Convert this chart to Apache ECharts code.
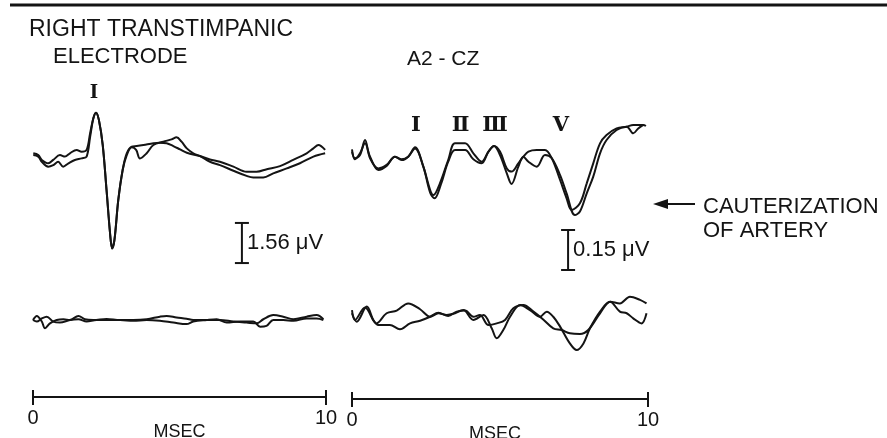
<!DOCTYPE html>
<html>
<head>
<meta charset="utf-8">
<script src="https://cdn.jsdelivr.net/npm/echarts/dist/echarts.min.js"></script>
<style>
  html, body { margin: 0; padding: 0; background: #fff; }
  #chart { width: 887px; height: 438px; }
</style>
</head>
<body>
<div id="chart"></div>
<script>
// Sweep time, ms
const timeTicks = [0, 10];

// Right transtympanic electrode, µV: two superimposed runs before, two after
const ttBeforeA = [[0.01,-0.03],[0.18,-0.09],[0.30,-0.29],[0.52,-0.48],[0.69,-0.42],[0.86,-0.29],[1.03,-0.48],[1.21,-0.35],[1.43,-0.22],[1.66,-0.16],[1.83,-0.09],[1.95,0.68],[2.06,1.40],[2.15,1.62],[2.25,1.33],[2.38,0.36],[2.51,-1.39],[2.63,-3.07],[2.70,-3.66],[2.78,-3.33],[2.91,-1.78],[3.06,-0.61],[3.20,-0.03],[3.37,0.27],[3.52,0.17],[3.65,-0.16],[3.88,0.04],[4.11,0.36],[4.45,0.49],[4.73,0.58],[4.90,0.66],[5.07,0.49],[5.25,0.23],[5.47,0.04],[5.70,-0.07],[6.04,-0.29],[6.38,-0.42],[6.84,-0.64],[7.29,-0.84],[7.52,-0.90],[7.86,-0.90],[8.20,-0.74],[8.66,-0.55],[9.11,-0.35],[9.57,-0.09],[9.97,0.04]];
const ttBeforeB = [[0.01,0.04],[0.18,-0.03],[0.30,-0.22],[0.52,-0.35],[0.69,-0.22],[0.92,-0.03],[1.09,-0.09],[1.26,0.04],[1.49,0.17],[1.66,0.10],[1.83,0.17],[1.95,0.82],[2.06,1.40],[2.15,1.62],[2.25,1.33],[2.38,0.36],[2.51,-1.39],[2.63,-3.07],[2.70,-3.66],[2.78,-3.33],[2.91,-1.78],[3.06,-0.61],[3.20,0.04],[3.37,0.30],[3.54,0.32],[3.77,0.36],[4.11,0.43],[4.33,0.45],[4.56,0.43],[4.79,0.32],[5.02,0.19],[5.25,0.06],[5.70,-0.07],[6.04,-0.20],[6.38,-0.29],[6.84,-0.48],[7.29,-0.68],[7.63,-0.68],[7.98,-0.58],[8.43,-0.46],[8.88,-0.22],[9.34,0.04],[9.57,0.23],[9.74,0.36],[9.97,0.17]];
const ttAfterA = [[0,0],[0.13,0.16],[0.30,-0.06],[0.41,-0.32],[0.58,-0.13],[0.81,0],[1.04,0.03],[1.26,0],[1.55,0.16],[1.77,0.03],[2.06,0],[2.51,0.04],[2.97,0],[3.42,0],[3.88,0.03],[4.33,0.13],[4.56,0.16],[4.90,0.10],[5.24,0.05],[5.47,0],[5.93,0],[6.38,0],[6.84,-0.06],[7.29,-0.10],[7.63,-0.13],[7.86,0.03],[8.20,0.19],[8.54,0.13],[8.89,0.03],[9.34,0.13],[9.68,0.19],[9.91,0.03]];
const ttAfterB = [[0,0],[0.13,-0.06],[0.30,0.06],[0.47,0.13],[0.69,-0.06],[0.92,-0.10],[1.26,0],[1.55,0.03],[1.83,-0.06],[2.17,0],[2.51,0],[2.97,0],[3.42,-0.03],[3.88,0],[4.33,-0.03],[4.79,-0.10],[5.24,-0.16],[5.47,-0.06],[5.93,0],[6.27,0.03],[6.61,-0.10],[7.06,-0.06],[7.52,-0.06],[7.75,-0.26],[7.97,-0.23],[8.20,0],[8.54,0],[8.89,-0.03],[9.34,0.06],[9.68,0.06],[9.91,0]];

// A2-Cz, µV: two superimposed runs before, two after
const czBeforeA = [[0,0.0025],[0.10,-0.035],[0.27,-0.0125],[0.44,0.025],[0.61,-0.025],[0.89,-0.075],[1.17,-0.06],[1.45,-0.025],[1.68,-0.0375],[1.90,-0.025],[2.13,0.010],[2.41,-0.0625],[2.64,-0.15],[2.75,-0.169],[2.97,-0.125],[3.25,-0.0375],[3.48,0.025],[3.82,0.025],[4.10,-0.0125],[4.38,-0.044],[4.61,-0.006],[4.80,0.015],[5.00,-0.006],[5.23,-0.069],[5.39,-0.081],[5.62,-0.05],[5.79,-0.025],[5.96,-0.006],[6.24,0],[6.52,0],[6.75,-0.031],[7.03,-0.1125],[7.25,-0.181],[7.42,-0.225],[7.70,-0.20],[7.93,-0.125],[8.15,-0.05],[8.38,0.025],[8.60,0.056],[8.94,0.081],[9.28,0.0875],[9.50,0.094],[9.84,0.094],[9.93,0.09]];
const czBeforeB = [[0,-0.006],[0.10,-0.031],[0.27,-0.019],[0.44,0.0375],[0.61,-0.031],[0.89,-0.069],[1.17,-0.056],[1.45,-0.025],[1.68,-0.035],[1.90,-0.025],[2.13,0.006],[2.41,-0.0625],[2.64,-0.16],[2.79,-0.181],[3.00,-0.13],[3.25,-0.044],[3.48,0],[3.82,0],[4.10,-0.035],[4.38,-0.05],[4.61,-0.006],[4.80,0.015],[5.00,-0.019],[5.23,-0.0875],[5.39,-0.1275],[5.62,-0.0625],[5.79,-0.025],[5.96,-0.044],[6.24,-0.0625],[6.52,-0.019],[6.75,-0.031],[7.03,-0.094],[7.25,-0.1625],[7.53,-0.244],[7.70,-0.231],[7.93,-0.1625],[8.15,-0.10],[8.38,-0.0125],[8.60,0.0375],[8.94,0.075],[9.28,0.0875],[9.50,0.0625],[9.67,0.081],[9.84,0.094]];
const czAfterA = [[0,0.011],[0.10,-0.026],[0.44,0.021],[0.83,-0.039],[1.17,-0.001],[1.51,0.009],[1.90,0.036],[2.30,0.014],[2.64,-0.014],[2.92,-0.001],[3.20,-0.0075],[3.48,-0.001],[3.76,0.011],[4.10,-0.026],[4.44,-0.0075],[4.72,-0.0575],[4.89,-0.095],[5.11,-0.064],[5.34,-0.014],[5.68,0.03],[6.01,0.011],[6.35,-0.014],[6.58,0.005],[6.80,-0.014],[7.03,-0.051],[7.36,-0.114],[7.59,-0.139],[7.82,-0.114],[8.04,-0.0575],[8.38,0.005],[8.72,0.0425],[9.05,0.036],[9.39,0.061],[9.73,0.049],[9.95,0.036]];
const czAfterB = [[0,-0.001],[0.16,-0.0325],[0.50,0.024],[0.72,-0.026],[0.89,-0.045],[1.28,-0.045],[1.62,-0.061],[1.96,-0.039],[2.30,-0.029],[2.64,-0.014],[2.92,0.001],[3.25,-0.011],[3.54,0.005],[3.82,0.009],[4.10,-0.014],[4.32,-0.0075],[4.61,-0.045],[4.89,-0.039],[5.17,-0.026],[5.45,0.0175],[5.79,0.03],[6.13,0.005],[6.46,-0.024],[6.80,-0.0575],[7.08,-0.064],[7.36,-0.076],[7.70,-0.079],[7.98,-0.064],[8.38,-0.001],[8.72,0.0425],[9.05,0.005],[9.28,-0.001],[9.50,-0.02],[9.78,-0.039],[9.95,-0.001]];

// Wave labels: [name, ms, µV]
const ttWaves = [['Ⅰ', 2.08, 2.38]];
const czWaves = [['Ⅰ', 2.16, 0.09], ['Ⅱ', 3.67, 0.09], ['Ⅲ', 4.83, 0.09], ['Ⅴ', 7.06, 0.09]];

// Calibration bars: [ms, lower µV, size µV]
const ttCalib = [7.13, -4.23, 1.56];
const czCalib = [7.30, -0.45, 0.15];

const INK = '#141414';
const FONT = '"Liberation Sans", Arial, sans-serif';

const chart = echarts.init(document.getElementById('chart'), null, { renderer: 'canvas' });

function trace(data, xi, yi) {
  return {
    type: 'line', data, xAxisIndex: xi, yAxisIndex: yi,
    showSymbol: false, smooth: 0.35, silent: true, animation: false,
    lineStyle: { color: INK, width: 2 }
  };
}

function calibSeries(bar, xi, yi) {
  return {
    type: 'custom', xAxisIndex: xi, yAxisIndex: yi, silent: true, animation: false,
    data: [bar],
    renderItem(params, api) {
      const x = api.value(0), lo = api.value(1), size = api.value(2);
      const top = api.coord([x, lo + size]);
      const bot = api.coord([x, lo]);
      const cap = 7;
      const st = { stroke: INK, lineWidth: 2 };
      return {
        type: 'group',
        children: [
          { type: 'line', shape: { x1: top[0], y1: top[1], x2: bot[0], y2: bot[1] }, style: st },
          { type: 'line', shape: { x1: top[0] - cap, y1: top[1], x2: top[0] + cap, y2: top[1] }, style: st },
          { type: 'line', shape: { x1: bot[0] - cap, y1: bot[1], x2: bot[0] + cap, y2: bot[1] }, style: st },
          { type: 'text', style: {
              text: size.toFixed(2) + ' μV',
              x: top[0] + 5, y: (top[1] + bot[1]) / 2,
              align: 'left', verticalAlign: 'middle',
              font: '22px ' + FONT, fill: INK } }
        ]
      };
    }
  };
}

function waveLabels(list, xi, yi, size) {
  return {
    type: 'custom', xAxisIndex: xi, yAxisIndex: yi, silent: true, animation: false,
    data: list.map(d => [d[1], d[2]]),
    renderItem(params, api) {
      const p = api.coord([api.value(0), api.value(1)]);
      return { type: 'text', style: {
        text: list[params.dataIndex][0], x: p[0], y: p[1],
        align: 'center', verticalAlign: 'middle',
        font: 'bold ' + size + 'px "DejaVu Serif", serif', fill: INK } };
    }
  };
}

function hiddenX(grid) {
  return { type: 'value', gridIndex: grid, min: timeTicks[0], max: timeTicks[1], show: false };
}
function timeAxis(grid, offset, nameShift) {
  return [{
    type: 'value', gridIndex: grid, min: timeTicks[0], max: timeTicks[1], interval: 10,
    position: 'bottom', offset,
    axisLine: { show: true, onZero: false, lineStyle: { color: INK, width: 2 } },
    axisTick: { show: true, length: 8, lineStyle: { color: INK, width: 2 } },
    axisLabel: { show: true, color: INK, fontSize: 20, fontFamily: FONT, margin: 11 },
    splitLine: { show: false },
    name: 'MSEC', nameLocation: 'middle', nameGap: 26, nameMoveOverlap: false,
    nameTextStyle: { color: INK, fontSize: 18, fontFamily: FONT, padding: [0, nameShift, 0, 0] }
  }, {
    type: 'value', gridIndex: grid, min: timeTicks[0], max: timeTicks[1], interval: 10,
    position: 'bottom', offset,
    axisLine: { show: false, onZero: false },
    axisTick: { show: true, inside: true, length: 7, lineStyle: { color: INK, width: 2 } },
    axisLabel: { show: false }, splitLine: { show: false }
  }];
}
function yAx(grid, min, max) {
  return { type: 'value', gridIndex: grid, min, max, show: false };
}

// Fixed panel boxes; axis text may run to the page edge
const box = (left, width, top, height) =>
  ({ left, width, top, height, containLabel: false, outerBoundsMode: 'none' });

const option = {
  backgroundColor: '#fff',
  animation: false,
  grid: [
    box(33, 293, 90, 180),    // transtympanic, before
    box(33, 293, 280, 80),    // transtympanic, after
    box(352, 296, 90, 190),   // A2-Cz, before
    box(352, 296, 273, 80)    // A2-Cz, after
  ],
  xAxis: [hiddenX(0), ...timeAxis(1, 37, 0), hiddenX(2), ...timeAxis(3, 46, 10)],
  yAxis: [yAx(0, -4.5, 2.5), yAx(1, -1.556, 1.556), yAx(2, -0.4875, 0.225), yAx(3, -0.15, 0.15)],
  series: [
    trace(ttBeforeA, 0, 0), trace(ttBeforeB, 0, 0),
    trace(ttAfterA, 1, 1), trace(ttAfterB, 1, 1),
    trace(czBeforeA, 3, 2), trace(czBeforeB, 3, 2),
    trace(czAfterA, 4, 3), trace(czAfterB, 4, 3),
    calibSeries(ttCalib, 0, 0), calibSeries(czCalib, 3, 2),
    waveLabels(ttWaves, 0, 0, 18), waveLabels(czWaves, 3, 2, 21)
  ],
  graphic: [
    { type: 'line', shape: { x1: 10, y1: 5, x2: 887, y2: 5 }, style: { stroke: INK, lineWidth: 3 } },
    { type: 'text', x: 29, y: 30, style: { text: 'RIGHT TRANSTIMPANIC', font: '23px ' + FONT, fill: INK, verticalAlign: 'middle' } },
    { type: 'text', x: 53, y: 57, style: { text: 'ELECTRODE', font: '22px ' + FONT, fill: INK, verticalAlign: 'middle' } },
    { type: 'text', x: 407, y: 59, style: { text: 'A2 - CZ', font: '21px ' + FONT, fill: INK, verticalAlign: 'middle' } },
    { type: 'text', x: 703, y: 207, style: { text: 'CAUTERIZATION', font: '22px ' + FONT, fill: INK, verticalAlign: 'middle' } },
    { type: 'text', x: 703, y: 231, style: { text: 'OF ARTERY', font: '22px ' + FONT, fill: INK, verticalAlign: 'middle' } },
    { type: 'line', shape: { x1: 664, y1: 204, x2: 695, y2: 204 }, style: { stroke: INK, lineWidth: 2 } },
    { type: 'polygon', shape: { points: [[653, 204], [668, 199], [668, 209]] }, style: { fill: INK } }
  ]
};

chart.setOption(option);
</script>
</body>
</html>
